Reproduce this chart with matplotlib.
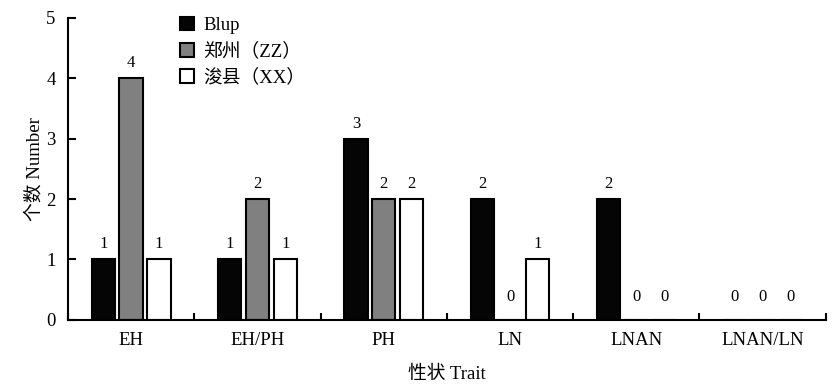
import numpy as np
import matplotlib.pyplot as plt

plt.rcParams['font.family'] = ['Liberation Serif', 'Noto Sans CJK SC']

traits = ["EH", "EH/PH", "PH", "LN", "LNAN", "LNAN/LN"]
blup = [1, 1, 3, 2, 2, 0]
zz = [4, 2, 2, 0, 0, 0]
xx = [1, 1, 2, 1, 0, 0]
series_names = ["Blup", "郑州（ZZ）", "浚县（XX）"]
colors = ["#050505", "#808080", "white"]


def main():
    fig = plt.figure(figsize=(8.4, 3.9), dpi=100)
    ax = fig.add_axes([0.081, 0.18, 0.902, 0.774])

    x = np.arange(len(traits))
    offsets = [-0.22, 0.0, 0.22]
    width = 0.185
    for vals, off, col, name in zip([blup, zz, xx], offsets, colors, series_names):
        bars = ax.bar(x + off, vals, width, color=col, edgecolor="black",
                      linewidth=1.5, label=name)
        for b, v in zip(bars, vals):
            ax.annotate(str(v), (b.get_x() + b.get_width() / 2, v),
                        xytext=(0, 5 if v > 0 else 11), textcoords="offset points",
                        ha="center", va="bottom", fontsize=12)

    ax.set_xlim(-0.5, len(traits) - 0.5)
    ax.set_ylim(0, 5)
    ax.set_yticks(range(6))
    ax.set_xticks(x)
    ax.set_xticklabels(traits)
    ax.set_xticks(np.arange(len(traits) + 1) - 0.5, minor=True)
    ax.tick_params(axis="x", which="major", length=0, pad=9, labelsize=13.5)
    ax.tick_params(axis="x", which="minor", direction="in", length=5, width=1.5)
    ax.tick_params(axis="y", direction="in", length=6, width=1.5, labelsize=13.5, pad=9)

    for s in ["top", "right"]:
        ax.spines[s].set_visible(False)
    for s in ["left", "bottom"]:
        ax.spines[s].set_linewidth(1.5)

    ax.set_xlabel("性状 Trait", fontsize=13.5, labelpad=12)
    ax.set_ylabel("个数 Number", fontsize=13.5, labelpad=2)

    ax.legend(loc="upper left", bbox_to_anchor=(0.125, 1.06), frameon=False,
              fontsize=13.5, handlelength=0.75, handleheight=0.75, handletextpad=0.5,
              labelspacing=0.45)

    fig.savefig("out.png")


main()
